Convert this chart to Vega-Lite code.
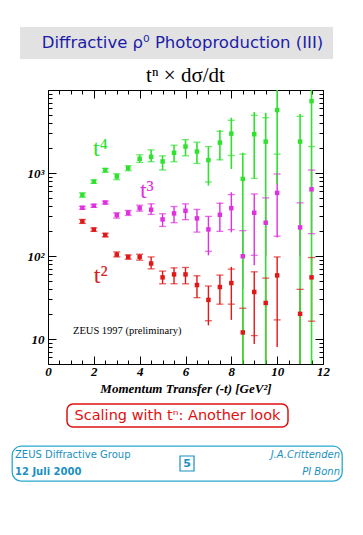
{
"$schema": "https://vega.github.io/schema/vega-lite/v6.json",
"background": "white",
"padding": {"left": 3, "top": 27, "right": 0, "bottom": 0},
"config": {"view": {"stroke": null}, "concat": {"spacing": 0}},
"datasets": {
"pts": [
{"t":1.5,"s":"t4","v":545,"lo":510,"hi":576,"clo":510,"chi":576},
{"t":2,"s":"t4","v":787,"lo":751,"hi":825,"clo":751,"chi":825},
{"t":2.5,"s":"t4","v":1086,"lo":1017,"hi":1135,"clo":1017,"chi":1135},
{"t":3,"s":"t4","v":910,"lo":832,"hi":981,"clo":832,"chi":981},
{"t":3.5,"s":"t4","v":1148,"lo":1065,"hi":1223,"clo":1065,"chi":1223},
{"t":4,"s":"t4","v":1484,"lo":1339,"hi":1656,"clo":1339,"chi":1656},
{"t":4.5,"s":"t4","v":1567,"lo":1366,"hi":1901,"clo":1366,"chi":1901},
{"t":5,"s":"t4","v":1377,"lo":1086,"hi":1611,"clo":1086,"chi":1611},
{"t":5.5,"s":"t4","v":1750,"lo":1366,"hi":2164,"clo":1366,"chi":2164},
{"t":6,"s":"t4","v":2083,"lo":1611,"hi":2526,"clo":1611,"chi":2526},
{"t":6.5,"s":"t4","v":1814,"lo":1303,"hi":2351,"clo":1303,"chi":2351},
{"t":7,"s":"t4","v":1431,"lo":705,"hi":2083,"clo":780,"chi":2083},
{"t":7.5,"s":"t4","v":2325,"lo":1420,"hi":3300,"clo":1443,"chi":3184},
{"t":8,"s":"t4","v":2981,"lo":1117,"hi":4634,"clo":1625,"chi":4313},
{"t":8.5,"s":"t4","v":848,"lo":1,"hi":1750,"clo":null,"chi":1689},
{"t":9,"s":"t4","v":2932,"lo":861,"hi":5422,"clo":861,"chi":4950},
{"t":9.5,"s":"t4","v":2390,"lo":1,"hi":5318,"clo":null,"chi":4634},
{"t":10,"s":"t4","v":5729,"lo":743,"hi":20000,"clo":1689,"chi":null},
{"t":11,"s":"t4","v":2390,"lo":1,"hi":5130,"clo":null,"chi":4814},
{"t":11.5,"s":"t4","v":7344,"lo":1,"hi":20000,"clo":2083,"chi":null},
{"t":1.5,"s":"t3","v":381,"lo":366,"hi":397,"clo":366,"chi":397},
{"t":2,"s":"t3","v":403,"lo":386,"hi":420,"clo":386,"chi":420},
{"t":2.5,"s":"t3","v":441,"lo":423,"hi":459,"clo":423,"chi":459},
{"t":3,"s":"t3","v":311,"lo":286,"hi":332,"clo":286,"chi":332},
{"t":3.5,"s":"t3","v":332,"lo":308,"hi":354,"clo":308,"chi":354},
{"t":4,"s":"t3","v":377,"lo":347,"hi":409,"clo":347,"chi":409},
{"t":4.5,"s":"t3","v":361,"lo":317,"hi":425,"clo":317,"chi":425},
{"t":5,"s":"t3","v":276,"lo":227,"hi":323,"clo":227,"chi":323},
{"t":5.5,"s":"t3","v":326,"lo":252,"hi":395,"clo":252,"chi":395},
{"t":6,"s":"t3","v":351,"lo":274,"hi":425,"clo":274,"chi":425},
{"t":6.5,"s":"t3","v":284,"lo":194,"hi":364,"clo":194,"chi":364},
{"t":7,"s":"t3","v":209,"lo":102,"hi":300,"clo":114,"chi":300},
{"t":7.5,"s":"t3","v":314,"lo":198,"hi":440,"clo":198,"chi":432},
{"t":8,"s":"t3","v":377,"lo":193,"hi":586,"clo":208,"chi":550},
{"t":8.5,"s":"t3","v":99.4,"lo":40,"hi":202,"clo":null,"chi":202},
{"t":9,"s":"t3","v":332,"lo":77.6,"hi":560,"clo":102,"chi":560},
{"t":9.5,"s":"t3","v":252,"lo":100,"hi":502,"clo":null,"chi":502},
{"t":10,"s":"t3","v":576,"lo":167,"hi":973,"clo":173,"chi":973},
{"t":11,"s":"t3","v":221,"lo":100,"hi":437,"clo":null,"chi":437},
{"t":11.5,"s":"t3","v":636,"lo":186,"hi":1086,"clo":186,"chi":1086},
{"t":1.5,"s":"t2","v":261,"lo":247,"hi":276,"clo":247,"chi":276},
{"t":2,"s":"t2","v":208,"lo":198,"hi":218,"clo":198,"chi":218},
{"t":2.5,"s":"t2","v":179,"lo":170,"hi":188,"clo":170,"chi":188},
{"t":3,"s":"t2","v":104,"lo":97.5,"hi":112,"clo":97.5,"chi":112},
{"t":3.5,"s":"t2","v":97.5,"lo":91.6,"hi":103,"clo":91.6,"chi":103},
{"t":4,"s":"t2","v":97.5,"lo":89.1,"hi":105,"clo":89.1,"chi":105},
{"t":4.5,"s":"t2","v":81.3,"lo":70.1,"hi":97.5,"clo":70.1,"chi":97.5},
{"t":5,"s":"t2","v":55.3,"lo":46.3,"hi":65.8,"clo":46.3,"chi":65.8},
{"t":5.5,"s":"t2","v":60,"lo":46.3,"hi":72,"clo":46.3,"chi":72},
{"t":6,"s":"t2","v":60,"lo":46.3,"hi":72.8,"clo":46.3,"chi":72.8},
{"t":6.5,"s":"t2","v":44.7,"lo":31.5,"hi":57.8,"clo":31.5,"chi":57.8},
{"t":7,"s":"t2","v":29.6,"lo":14.6,"hi":43.5,"clo":16.6,"chi":43.5},
{"t":7.5,"s":"t2","v":42.3,"lo":26.3,"hi":58.9,"clo":26.3,"chi":58.9},
{"t":8,"s":"t2","v":47.2,"lo":17,"hi":74.1,"clo":26.3,"chi":69.5},
{"t":8.5,"s":"t2","v":12.0,"lo":1,"hi":23.5,"clo":null,"chi":23.5},
{"t":9,"s":"t2","v":36.9,"lo":8.7,"hi":64.5,"clo":11,"chi":64.5},
{"t":9.5,"s":"t2","v":27.2,"lo":1,"hi":54.2,"clo":null,"chi":54.2},
{"t":10,"s":"t2","v":58.4,"lo":8.0,"hi":97.5,"clo":17,"chi":97.5},
{"t":11,"s":"t2","v":20.1,"lo":1,"hi":39.7,"clo":null,"chi":39.7},
{"t":11.5,"s":"t2","v":55.3,"lo":16.4,"hi":95.9,"clo":16.4,"chi":95.9}
],
"labels": [
{"t":1.96,"v":1611,"label":"t⁴","s":"t4"},
{"t":4.01,"v":502,"label":"t³","s":"t3"},
{"t":2.0,"v":47.6,"label":"t²","s":"t2"}
],
"note": [{"t":1.09,"v":11.6,"label":"ZEUS 1997 (preliminary)"}]
},
"spacing": 8,
"vconcat": [
{
"spacing": 6,
"vconcat": [
{
"hconcat": [
{"width": 17, "height": 1, "data": {"values": []}, "mark": "point"},
{
"width": 313, "height": 32,
"view": {"fill": "#e2e2e2", "stroke": null},
"data": {"values": [{"label": "Diffractive ρ⁰ Photoproduction (III)"}]},
"mark": {"type": "text", "font": "DejaVu Sans", "fontSize": 16.5, "color": "#1c1ca8", "dx": 6},
"encoding": {"text": {"field": "label"}}
}
]
},
{
"hconcat": [
{"width": 24, "height": 1, "data": {"values": []}, "mark": "point"},
{
"width": 275, "height": 274,
"title": {"text": "tⁿ × dσ/dt", "font": "Liberation Serif", "fontSize": 21, "fontWeight": "normal", "color": "black", "offset": -2, "anchor": "middle"},
"resolve": {"axis": {"x": "independent", "y": "independent"}},
"layer": [
{
"data": {"name": "pts"},
"transform": [{"filter": "datum.s !== 't4'"}],
"mark": {"type": "rule", "strokeWidth": 1.4, "clip": true},
"encoding": {
"x": {"field": "t", "type": "quantitative", "scale": {"domain": [0, 12], "nice": false, "zero": false},
"axis": {"orient": "bottom", "values": [0,0.5,1,1.5,2,2.5,3,3.5,4,4.5,5,5.5,6,6.5,7,7.5,8,8.5,9,9.5,10,10.5,11,11.5,12],
"tickSize": {"condition": {"test": "datum.value % 2 === 0", "value": -8}, "value": -4},
"labelExpr": "datum.value % 2 === 0 ? '' + datum.value : ''",
"labelOverlap": false, "labelFlush": false,
"labelFont": "Liberation Serif", "labelFontStyle": "italic", "labelFontWeight": "bold", "labelFontSize": 13, "labelColor": "black", "labelPadding": 9,
"domainColor": "black", "tickColor": "black", "grid": false,
"title": "Momentum Transfer (-t) [GeV²]", "titleFont": "Liberation Serif", "titleFontStyle": "italic", "titleFontWeight": "bold", "titleFontSize": 13, "titleColor": "black", "titlePadding": 0}},
"y": {"field": "lo", "type": "quantitative", "scale": {"type": "log", "domain": [5, 10000], "nice": false},
"axis": {"orient": "left", "values": [5,6,7,8,9,10,20,30,40,50,60,70,80,90,100,200,300,400,500,600,700,800,900,1000,2000,3000,4000,5000,6000,7000,8000,9000,10000],
"tickSize": {"condition": {"test": "datum.value === 10 || datum.value === 100 || datum.value === 1000 || datum.value === 10000", "value": -8}, "value": -4},
"labelExpr": "datum.value === 10 ? '10' : datum.value === 100 ? '10²' : datum.value === 1000 ? '10³' : ''",
"labelOverlap": false, "labelFlush": false,
"labelFont": "Liberation Serif", "labelFontStyle": "italic", "labelFontWeight": "bold", "labelFontSize": 13, "labelColor": "black", "labelPadding": 12,
"domainColor": "black", "tickColor": "black", "grid": false, "title": null}},
"y2": {"field": "hi"},
"color": {"field": "s", "type": "nominal", "scale": {"domain": ["t4", "t3", "t2"], "range": ["#2ee22e", "#e030e0", "#e01818"]}, "legend": null}
}
},
{
"data": {"name": "pts"},
"transform": [{"filter": "datum.s === 't4'"}],
"mark": {"type": "rule", "strokeWidth": 1.6, "clip": true},
"encoding": {
"x": {"field": "t", "type": "quantitative",
"axis": {"orient": "top", "values": [0,0.5,1,1.5,2,2.5,3,3.5,4,4.5,5,5.5,6,6.5,7,7.5,8,8.5,9,9.5,10,10.5,11,11.5,12],
"tickSize": {"condition": {"test": "datum.value % 2 === 0", "value": -8}, "value": -4},
"labels": false, "domainColor": "black", "tickColor": "black", "grid": false, "title": null}},
"y": {"field": "lo", "type": "quantitative",
"axis": {"orient": "right", "values": [5,6,7,8,9,10,20,30,40,50,60,70,80,90,100,200,300,400,500,600,700,800,900,1000,2000,3000,4000,5000,6000,7000,8000,9000,10000],
"tickSize": {"condition": {"test": "datum.value === 10 || datum.value === 100 || datum.value === 1000 || datum.value === 10000", "value": -8}, "value": -4},
"labels": false, "domainColor": "black", "tickColor": "black", "grid": false, "title": null}},
"y2": {"field": "hi"},
"color": {"field": "s", "type": "nominal", "legend": null}
}
},
{
"data": {"name": "pts"},
"transform": [{"fold": ["clo", "chi"], "as": ["cap", "cv"]}, {"filter": "isValid(datum.cv)"}],
"mark": {"type": "tick", "orient": "horizontal", "size": 7, "thickness": 1.3, "clip": true},
"encoding": {
"x": {"field": "t", "type": "quantitative", "axis": null},
"y": {"field": "cv", "type": "quantitative", "axis": null},
"color": {"field": "s", "type": "nominal", "legend": null}
}
},
{
"data": {"name": "pts"},
"mark": {"type": "point", "shape": "square", "filled": true, "size": 20, "opacity": 1},
"encoding": {
"x": {"field": "t", "type": "quantitative", "axis": null},
"y": {"field": "v", "type": "quantitative", "axis": null},
"color": {"field": "s", "type": "nominal", "legend": null}
}
},
{
"data": {"name": "labels"},
"mark": {"type": "text", "font": "Liberation Serif", "fontSize": 24, "align": "left", "baseline": "alphabetic"},
"encoding": {
"x": {"field": "t", "type": "quantitative", "axis": null},
"y": {"field": "v", "type": "quantitative", "axis": null},
"text": {"field": "label"},
"color": {"field": "s", "type": "nominal", "legend": null}
}
},
{
"data": {"name": "note"},
"mark": {"type": "text", "font": "Liberation Serif", "fontSize": 10.5, "align": "left", "baseline": "alphabetic", "color": "black"},
"encoding": {
"x": {"field": "t", "type": "quantitative", "axis": null},
"y": {"field": "v", "type": "quantitative", "axis": null},
"text": {"field": "label"}
}
}
]
}
]
}
]
},
{
"spacing": 17,
"vconcat": [
{
"hconcat": [
{"width": 63, "height": 1, "data": {"values": []}, "mark": "point"},
{
"width": 221, "height": 23,
"view": {"stroke": "#e01010", "strokeWidth": 1.5, "cornerRadius": 6, "fill": null},
"data": {"values": [{"label": "Scaling with tⁿ: Another look"}]},
"mark": {"type": "text", "font": "DejaVu Sans", "fontSize": 14.5, "color": "#e01010"},
"encoding": {"text": {"field": "label"}}
}
]
},
{
"hconcat": [
{"width": 8, "height": 1, "data": {"values": []}, "mark": "point"},
{
"width": 330, "height": 35,
"view": {"stroke": "#2aa8d0", "strokeWidth": 1.3, "cornerRadius": 9, "fill": null},
"data": {"values": [
{"pos": "l", "line": "1", "label": "ZEUS Diffractive Group"},
{"pos": "l", "line": "2", "label": "12 Juli 2000"},
{"pos": "r", "line": "1", "label": "J.A.Crittenden"},
{"pos": "r", "line": "2", "label": "PI Bonn"},
{"pos": "c", "line": "1", "label": "5"}
]},
"layer": [
{
"transform": [{"filter": "datum.pos === 'l' && datum.line === '1'"}],
"mark": {"type": "text", "font": "DejaVu Sans", "fontSize": 10, "align": "left", "dx": 3, "color": "#1b8fc2"},
"encoding": {
"x": {"field": "pos", "type": "nominal", "scale": {"type": "point", "domain": ["l", "c", "r"], "padding": 0}, "axis": null},
"y": {"field": "line", "type": "nominal", "scale": {"type": "point", "domain": ["1", "2"], "padding": 0.5}, "axis": null},
"text": {"field": "label"}
}
},
{
"transform": [{"filter": "datum.pos === 'l' && datum.line === '2'"}],
"mark": {"type": "text", "font": "DejaVu Sans", "fontSize": 10, "fontWeight": "bold", "align": "left", "dx": 3, "color": "#1b8fc2"},
"encoding": {
"x": {"field": "pos", "type": "nominal", "axis": null},
"y": {"field": "line", "type": "nominal", "axis": null},
"text": {"field": "label"}
}
},
{
"transform": [{"filter": "datum.pos === 'r'"}],
"mark": {"type": "text", "font": "DejaVu Sans", "fontSize": 10, "fontStyle": "italic", "align": "right", "dx": -2, "color": "#1b8fc2"},
"encoding": {
"x": {"field": "pos", "type": "nominal", "axis": null},
"y": {"field": "line", "type": "nominal", "axis": null},
"text": {"field": "label"}
}
},
{
"transform": [{"filter": "datum.pos === 'c'"}],
"mark": {"type": "point", "shape": "M0.4,-1H2.27V1H0.4Z", "size": 225, "filled": false, "strokeWidth": 1.2, "color": "#1b8fc2", "opacity": 1},
"encoding": {
"x": {"field": "pos", "type": "nominal", "axis": null}
}
},
{
"transform": [{"filter": "datum.pos === 'c'"}],
"mark": {"type": "text", "font": "DejaVu Sans", "fontSize": 11, "fontWeight": "bold", "dx": 10, "color": "#1b8fc2"},
"encoding": {
"x": {"field": "pos", "type": "nominal", "axis": null},
"text": {"field": "label"}
}
}
]
}
]
}
]
}
]
}
